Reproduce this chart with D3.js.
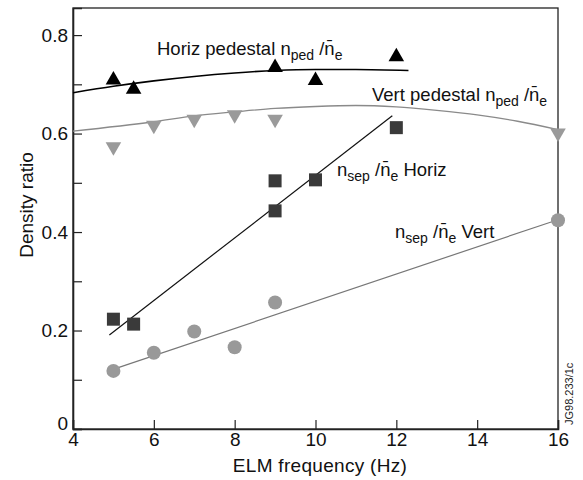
<!DOCTYPE html>
<html><head><meta charset="utf-8">
<script src="https://cdn.jsdelivr.net/npm/d3@7"></script>
<style>body{margin:0;background:#fff;} text{font-family:"Liberation Sans",Arial,sans-serif;}</style>
</head><body><svg id="c" width="583" height="480"></svg>
<script>
// Data
const horizPedX = [5, 5.5, 9, 10, 12];
const horizPedY = [0.709, 0.690, 0.734, 0.708, 0.756];
const vertPedX = [5, 6, 7, 8, 9, 16];
const vertPedY = [0.573, 0.617, 0.629, 0.638, 0.629, 0.601];
const horizSepX = [5, 5.5, 9, 9, 10, 12];
const horizSepY = [0.223, 0.213, 0.504, 0.443, 0.506, 0.612];
const vertSepX = [5, 6, 7, 8, 9, 16];
const vertSepY = [0.118, 0.155, 0.198, 0.166, 0.257, 0.424];
// Fitted curves/lines (as drawn)
const horizPedFitX = [4, 5, 6, 7, 8, 9, 10, 11, 12.3];
const horizPedFitY = [0.683, 0.696, 0.707, 0.716, 0.723, 0.728, 0.730, 0.730, 0.728];
const vertPedFitX = [4, 6, 7, 8, 9, 10, 11, 12, 13, 14, 15, 16];
const vertPedFitY = [0.605, 0.624, 0.636, 0.644, 0.651, 0.655, 0.657, 0.654, 0.647, 0.638, 0.625, 0.608];
const horizSepFitX = [4.9, 11.9];
const horizSepFitY = [0.191, 0.636];
const vertSepFitX = [5.1, 15.85];
const vertSepFitY = [0.124, 0.421];
// Ticks
const xTicks = [4, 6, 8, 10, 12, 14, 16];
const xTickLabels = ["4", "6", "8", "10", "12", "14", "16"];
const yTicks = [0, 0.1, 0.2, 0.3, 0.4, 0.5, 0.6, 0.7, 0.8];
const yTickLabels = ["0", "", "0.2", "", "0.4", "", "0.6", "", "0.8"];

const svg = d3.select("#c");
const L = 73, R = 558, T = 8, B = 429;
const x = d3.scaleLinear().domain([4, 16]).range([L, R]);
const y = d3.scaleLinear().domain([0, 0.855]).range([B, T]);
const FONT = "Liberation Sans, Arial, sans-serif";

// Frame
svg.append("rect").attr("x", L).attr("y", T).attr("width", R - L).attr("height", B - T)
  .attr("fill", "none").attr("stroke", "#222").attr("stroke-width", 1.3);

// Axes
const xAxis = d3.axisBottom(x).tickValues(xTicks).tickSize(-9).tickPadding(4)
  .tickFormat((d, i) => xTickLabels[i]);
const gx = svg.append("g").attr("transform", `translate(0,${B})`).call(xAxis);
gx.attr("font-size", 19).attr("font-family", FONT);
gx.select(".domain").attr("stroke", "#222").attr("stroke-width", 1.6);
gx.selectAll(".tick line").attr("stroke", "#222").attr("stroke-width", 1.2);
gx.selectAll(".tick text").attr("fill", "#111");

const yAxis = d3.axisLeft(y).tickValues(yTicks).tickSize(-9).tickPadding(5)
  .tickFormat((d, i) => yTickLabels[i]);
const gy = svg.append("g").attr("transform", `translate(${L},0)`).call(yAxis);
gy.attr("font-size", 19).attr("font-family", FONT);
gy.select(".domain").attr("stroke", "#222").attr("stroke-width", 1.6);
gy.selectAll(".tick line").attr("stroke", "#222").attr("stroke-width", 1.2);
gy.selectAll(".tick text").attr("fill", "#111").filter(d => d === 0).attr("dy", "0em");

// Axis titles
svg.append("text").attr("x", 320).attr("y", 472).attr("text-anchor", "middle")
  .attr("font-size", 19).attr("letter-spacing", 0.3).attr("fill", "#111").text("ELM frequency (Hz)");
svg.append("text").attr("transform", "translate(33,205) rotate(-90)").attr("text-anchor", "middle")
  .attr("font-size", 19).attr("fill", "#111").text("Density ratio");
svg.append("text").attr("transform", "translate(573,425) rotate(-90)").attr("text-anchor", "start")
  .attr("font-size", 11).attr("fill", "#222").text("JG98.233/1c");

// Curves
const line = (xs, ys, curve) => d3.line().x(d => x(d[0])).y(d => y(d[1])).curve(curve)(xs.map((v, i) => [v, ys[i]]));
svg.append("path").attr("d", line(vertPedFitX, vertPedFitY, d3.curveMonotoneX))
  .attr("fill", "none").attr("stroke", "#8a8a8a").attr("stroke-width", 1.3);
svg.append("path").attr("d", line(horizPedFitX, horizPedFitY, d3.curveMonotoneX))
  .attr("fill", "none").attr("stroke", "#000").attr("stroke-width", 1.6);
svg.append("path").attr("d", line(horizSepFitX, horizSepFitY, d3.curveLinear))
  .attr("fill", "none").attr("stroke", "#111").attr("stroke-width", 1.2);
svg.append("path").attr("d", line(vertSepFitX, vertSepFitY, d3.curveLinear))
  .attr("fill", "none").attr("stroke", "#777").attr("stroke-width", 1.2);

// Markers
const tri = d3.symbol().type(d3.symbolTriangle).size(105);
svg.append("g").selectAll("path").data(horizPedX.map((v, i) => [v, horizPedY[i]])).join("path")
  .attr("d", tri).attr("transform", d => `translate(${x(d[0])},${y(d[1])})`).attr("fill", "#000");
svg.append("g").selectAll("path").data(vertPedX.map((v, i) => [v, vertPedY[i]])).join("path")
  .attr("d", tri).attr("transform", d => `translate(${x(d[0])},${y(d[1])}) rotate(180)`).attr("fill", "#9a9a9a");
svg.append("g").selectAll("rect").data(horizSepX.map((v, i) => [v, horizSepY[i]])).join("rect")
  .attr("x", d => x(d[0]) - 6.5).attr("y", d => y(d[1]) - 6.5).attr("width", 13).attr("height", 13)
  .attr("fill", "#3a3a3a");
svg.append("g").selectAll("circle").data(vertSepX.map((v, i) => [v, vertSepY[i]])).join("circle")
  .attr("cx", d => x(d[0])).attr("cy", d => y(d[1])).attr("r", 7).attr("fill", "#999");

// Labels with subscripts
function label(px, py, parts) {
  const t = svg.append("text").attr("x", px).attr("y", py).attr("font-size", 18.5).attr("fill", "#111");
  let shifted = false;
  parts.forEach(([s, sub]) => {
    const ts = t.append("tspan").text(s);
    if (sub && !shifted) { ts.attr("dy", 5).attr("font-size", 14); shifted = true; }
    else if (!sub && shifted) { ts.attr("dy", -5); shifted = false; }
    else if (sub) ts.attr("font-size", 14);
  });
}
const nbar = "n\u0304";
label(157, 55, [["Horiz pedestal n", 0], ["ped", 1], [" /" + nbar, 0], ["e", 1]]);
label(372, 101, [["Vert pedestal n", 0], ["ped", 1], [" /" + nbar, 0], ["e", 1]]);
label(337, 176, [["n", 0], ["sep", 1], [" /" + nbar, 0], ["e", 1], [" Horiz", 0]]);
label(395, 238, [["n", 0], ["sep", 1], [" /" + nbar, 0], ["e", 1], [" Vert", 0]]);
</script></body></html>
